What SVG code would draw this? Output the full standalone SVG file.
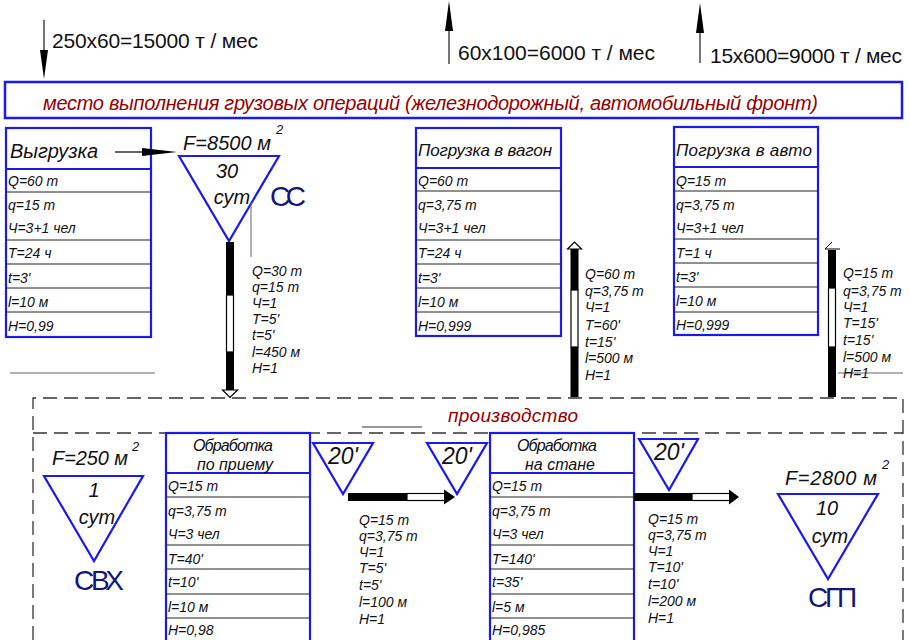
<svg xmlns="http://www.w3.org/2000/svg" width="910" height="640" viewBox="0 0 910 640">
<style>
text{font-family:"Liberation Sans",Arial,sans-serif;fill:#111}
.it{font-style:italic}
.cell{font-size:14px;font-style:italic}
.hdr{font-size:17px;font-style:italic}
.tri{fill:#fff;stroke:#1a1aee;stroke-width:2.2}
.tbl{fill:#fff;stroke:#1a1aee;stroke-width:2.2}
.row{stroke:#222;stroke-width:1}
.hline{stroke:#1a1aee;stroke-width:2.2}
.navy{fill:#141480;font-size:28px}
.red{fill:#990000;font-style:italic}
.blk{fill:#000}
.wht{fill:#fff;stroke:#000;stroke-width:1.2}
.lead{stroke:#666;stroke-width:1}
.dash{fill:none;stroke:#333;stroke-width:1.3;stroke-dasharray:14 7}
.big{font-size:20px;font-style:italic}
.sup{font-size:13px;font-style:italic}
</style>

<g id="flows">
  <line x1="44" y1="20" x2="44" y2="55" stroke="#444" stroke-width="1.5"/>
  <polygon class="blk" points="40,50 48,50 44,79"/>
  <text x="52" y="48" font-size="21" textLength="206">250x60=15000 т / мес</text>
  <line x1="449" y1="28" x2="449" y2="64" stroke="#777" stroke-width="2"/>
  <polygon class="blk" points="445,31 453,31 449,1"/>
  <text x="458" y="60" font-size="21" textLength="197">60x100=6000 т / мес</text>
  <line x1="700" y1="30" x2="700" y2="63" stroke="#777" stroke-width="2"/>
  <polygon class="blk" points="696,33 704,33 700,3"/>
  <text x="710" y="63" font-size="21" textLength="192">15x600=9000 т / мес</text>
</g>

<g id="front">
  <rect x="5" y="82" width="897" height="36" fill="#fff" stroke="#1a1aee" stroke-width="2.5"/>
  <text class="red" x="43" y="110" font-size="20" textLength="775">место выполнения грузовых операций (железнодорожный, автомобильный фронт)</text>
</g>

<g id="vygruzka">
  <rect class="tbl" x="6" y="128" width="145" height="209"/>
  <line class="hline" x1="6" y1="169" x2="151" y2="169"/>
  <line class="row" x1="6" y1="192" x2="151" y2="192"/>
  <line class="row" x1="6" y1="240" x2="151" y2="240"/>
  <line class="row" x1="6" y1="264" x2="151" y2="264"/>
  <line class="row" x1="6" y1="288" x2="151" y2="288"/>
  <line class="row" x1="6" y1="312" x2="151" y2="312"/>
  <text class="it" x="10" y="158" font-size="20" textLength="88">Выгрузка</text>
  <text class="cell" x="8" y="186">Q=60 т</text>
  <text class="cell" x="8" y="210">q=15 т</text>
  <text class="cell" x="8" y="233">Ч=3+1 чел</text>
  <text class="cell" x="8" y="258">T=24 ч</text>
  <text class="cell" x="8" y="283">t=3'</text>
  <text class="cell" x="8" y="307">l=10 м</text>
  <text class="cell" x="8" y="331">H=0,99</text>
</g>

<g id="ss">
  <polygon class="tri" points="179,156 279,156 229,241"/>
  <text class="big" x="183" y="150" textLength="88">F=8500 м</text>
  <text class="sup" x="276" y="134">2</text>
  <text class="big" x="227" y="178" text-anchor="middle">30</text>
  <text class="big" x="232" y="204" text-anchor="middle">сут</text>
  <text class="navy" x="270" y="206" font-size="29" textLength="36">СС</text>
</g>

<g id="pogruzka-vagon">
  <rect class="tbl" x="416" y="128" width="145" height="208"/>
  <line class="hline" x1="416" y1="168" x2="561" y2="168"/>
  <line class="row" x1="416" y1="191" x2="561" y2="191"/>
  <line class="row" x1="416" y1="240" x2="561" y2="240"/>
  <line class="row" x1="416" y1="264" x2="561" y2="264"/>
  <line class="row" x1="416" y1="288" x2="561" y2="288"/>
  <line class="row" x1="416" y1="312" x2="561" y2="312"/>
  <text class="hdr" x="418" y="156" textLength="134">Погрузка в вагон</text>
  <text class="cell" x="418" y="186">Q=60 т</text>
  <text class="cell" x="418" y="210">q=3,75 т</text>
  <text class="cell" x="418" y="233">Ч=3+1 чел</text>
  <text class="cell" x="418" y="258">T=24 ч</text>
  <text class="cell" x="418" y="283">t=3'</text>
  <text class="cell" x="418" y="307">l=10 м</text>
  <text class="cell" x="418" y="331">H=0,999</text>
</g>

<g id="pogruzka-avto">
  <rect class="tbl" x="674" y="127" width="144" height="208"/>
  <line class="hline" x1="674" y1="167" x2="818" y2="167"/>
  <line class="row" x1="674" y1="191" x2="818" y2="191"/>
  <line class="row" x1="674" y1="239" x2="818" y2="239"/>
  <line class="row" x1="674" y1="263" x2="818" y2="263"/>
  <line class="row" x1="674" y1="287" x2="818" y2="287"/>
  <line class="row" x1="674" y1="312" x2="818" y2="312"/>
  <text class="hdr" x="676" y="156" textLength="136">Погрузка в авто</text>
  <text class="cell" x="676" y="186">Q=15 т</text>
  <text class="cell" x="676" y="210">q=3,75 т</text>
  <text class="cell" x="676" y="233">Ч=3+1 чел</text>
  <text class="cell" x="676" y="258">T=1 ч</text>
  <text class="cell" x="676" y="282">t=3'</text>
  <text class="cell" x="676" y="306">l=10 м</text>
  <text class="cell" x="676" y="330">H=0,999</text>
</g>

<g id="production">
  <path class="dash" d="M33,640 V398 H903 V640"/>
  <line class="dash" x1="33" y1="433" x2="903" y2="433"/>
  <text class="red" x="513" y="422" font-size="19" text-anchor="middle" textLength="130">производство</text>
  <line x1="362" y1="427" x2="422" y2="427" stroke="#333" stroke-width="1"/>
</g>

<g id="svh">
  <polygon class="tri" points="44,476 143,476 94,561"/>
  <text class="big" x="52" y="465" textLength="76">F=250 м</text>
  <text class="sup" x="132" y="451">2</text>
  <text class="big" x="94" y="497" text-anchor="middle">1</text>
  <text class="big" x="97" y="524" text-anchor="middle">сут</text>
  <text class="navy" x="74" y="590" textLength="50">СВХ</text>
</g>

<g id="obr-priem">
  <rect class="tbl" x="166" y="433" width="144" height="215"/>
  <line class="hline" x1="166" y1="473" x2="310" y2="473"/>
  <line class="row" x1="166" y1="497" x2="310" y2="497"/>
  <line class="row" x1="166" y1="545" x2="310" y2="545"/>
  <line class="row" x1="166" y1="569" x2="310" y2="569"/>
  <line class="row" x1="166" y1="594" x2="310" y2="594"/>
  <line class="row" x1="166" y1="618" x2="310" y2="618"/>
  <text class="it" x="233" y="451" font-size="16" text-anchor="middle" textLength="80">Обработка</text>
  <text class="it" x="235" y="470" font-size="16" text-anchor="middle" textLength="76">по приему</text>
  <text class="cell" x="168" y="491">Q=15 т</text>
  <text class="cell" x="168" y="516">q=3,75 т</text>
  <text class="cell" x="168" y="539">Ч=3 чел</text>
  <text class="cell" x="168" y="564">T=40'</text>
  <text class="cell" x="168" y="587">t=10'</text>
  <text class="cell" x="168" y="612">l=10 м</text>
  <text class="cell" x="168" y="635">H=0,98</text>
</g>

<g id="buf1">
  <polygon class="tri" points="313,443 373,443 343,494"/>
  <text class="it" x="343" y="464" font-size="23" text-anchor="middle">20'</text>
</g>

<g id="buf2">
  <polygon class="tri" points="427,443 487,443 457,494"/>
  <text class="it" x="457" y="464" font-size="23" text-anchor="middle">20'</text>
</g>

<g id="obr-stan">
  <rect class="tbl" x="490" y="433" width="144" height="215"/>
  <line class="hline" x1="490" y1="473" x2="634" y2="473"/>
  <line class="row" x1="490" y1="497" x2="634" y2="497"/>
  <line class="row" x1="490" y1="545" x2="634" y2="545"/>
  <line class="row" x1="490" y1="569" x2="634" y2="569"/>
  <line class="row" x1="490" y1="594" x2="634" y2="594"/>
  <line class="row" x1="490" y1="618" x2="634" y2="618"/>
  <text class="it" x="557" y="451" font-size="16" text-anchor="middle" textLength="80">Обработка</text>
  <text class="it" x="560" y="470" font-size="16" text-anchor="middle" textLength="70">на стане</text>
  <text class="cell" x="492" y="491">Q=15 т</text>
  <text class="cell" x="492" y="516">q=3,75 т</text>
  <text class="cell" x="492" y="539">Ч=3 чел</text>
  <text class="cell" x="492" y="564">T=140'</text>
  <text class="cell" x="492" y="587">t=35'</text>
  <text class="cell" x="492" y="612">l=5 м</text>
  <text class="cell" x="492" y="635">H=0,985</text>
</g>

<g id="buf3">
  <polygon class="tri" points="639,439 698,439 669,490"/>
  <text class="it" x="669" y="460" font-size="23" text-anchor="middle">20'</text>
</g>

<g id="sgp">
  <polygon class="tri" points="778,494 878,494 828,579"/>
  <text class="big" x="785" y="485" textLength="92">F=2800 м</text>
  <text class="sup" x="882" y="469">2</text>
  <text class="big" x="827" y="515" text-anchor="middle">10</text>
  <text class="big" x="830" y="543" text-anchor="middle">сут</text>
  <text class="navy" x="808" y="607" textLength="49">СГП</text>
</g>

<g id="connectors">
  <line x1="115" y1="152" x2="146" y2="152" stroke="#000" stroke-width="1.2"/>
  <polygon class="blk" points="142,148 177,152 142,156"/>

  <!-- conveyor 1 down -->
  <line class="lead" x1="251" y1="203" x2="251" y2="257"/>
  <rect class="blk" x="226" y="242" width="8" height="53"/>
  <rect class="wht" x="226.5" y="295" width="7" height="57"/>
  <rect class="blk" x="226" y="352" width="8" height="38"/>
  <polygon class="wht" points="222.5,390 237.5,390 230,397.5"/>
  <g class="cell">
    <text class="cell" x="252" y="276">Q=30 т</text>
    <text class="cell" x="252" y="292">q=15 т</text>
    <text class="cell" x="252" y="308">Ч=1</text>
    <text class="cell" x="252" y="324">T=5'</text>
    <text class="cell" x="252" y="340">t=5'</text>
    <text class="cell" x="252" y="357">l=450 м</text>
    <text class="cell" x="252" y="373">H=1</text>
  </g>

  <!-- conveyor 2 up -->
  <rect class="blk" x="570.5" y="249" width="8" height="41"/>
  <rect class="wht" x="571" y="290" width="7" height="57"/>
  <rect class="blk" x="570.5" y="347" width="8" height="50"/>
  <polygon class="wht" points="567.5,249 581.5,249 574.5,242"/>
  <text class="cell" x="585" y="279">Q=60 т</text>
  <text class="cell" x="585" y="296">q=3,75 т</text>
  <text class="cell" x="585" y="312">Ч=1</text>
  <text class="cell" x="585" y="330">T=60'</text>
  <text class="cell" x="585" y="347">t=15'</text>
  <text class="cell" x="585" y="363">l=500 м</text>
  <text class="cell" x="585" y="380">H=1</text>

  <!-- conveyor 3 up -->
  <rect class="blk" x="828" y="250" width="8" height="38"/>
  <rect class="wht" x="828.5" y="288" width="7" height="59"/>
  <rect class="blk" x="828" y="347" width="8" height="50"/>
  <path d="M825,249 L832,242 M825,249 H840" fill="none" stroke="#000" stroke-width="1"/>
  <line class="lead" x1="838" y1="373" x2="903" y2="373"/>
  <text class="cell" x="843" y="278">Q=15 т</text>
  <text class="cell" x="843" y="296">q=3,75 т</text>
  <text class="cell" x="843" y="312">Ч=1</text>
  <text class="cell" x="843" y="328">T=15'</text>
  <text class="cell" x="843" y="345">t=15'</text>
  <text class="cell" x="843" y="362">l=500 м</text>
  <text class="cell" x="843" y="378">H=1</text>

  <line class="lead" x1="10" y1="373" x2="155" y2="373"/>

  <!-- horizontal conveyor 1 -->
  <rect class="blk" x="348" y="493" width="59" height="8"/>
  <rect class="wht" x="407" y="493.5" width="38" height="7"/>
  <polygon class="blk" points="444,489.5 455,497 444,504.5"/>
  <text class="cell" x="359" y="525">Q=15 т</text>
  <text class="cell" x="359" y="541">q=3,75 т</text>
  <text class="cell" x="359" y="557">Ч=1</text>
  <text class="cell" x="359" y="573">T=5'</text>
  <text class="cell" x="359" y="590">t=5'</text>
  <text class="cell" x="359" y="607">l=100 м</text>
  <text class="cell" x="359" y="624">H=1</text>

  <!-- horizontal conveyor 2 -->
  <rect class="blk" x="634" y="493" width="58" height="8"/>
  <rect class="wht" x="692" y="493.5" width="38" height="7"/>
  <polygon class="blk" points="729,489.5 739,497 729,504.5"/>
  <text class="cell" x="648" y="524">Q=15 т</text>
  <text class="cell" x="648" y="540">q=3,75 т</text>
  <text class="cell" x="648" y="556">Ч=1</text>
  <text class="cell" x="648" y="572">T=10'</text>
  <text class="cell" x="648" y="589">t=10'</text>
  <text class="cell" x="648" y="606">l=200 м</text>
  <text class="cell" x="648" y="623">H=1</text>
</g>
</svg>
